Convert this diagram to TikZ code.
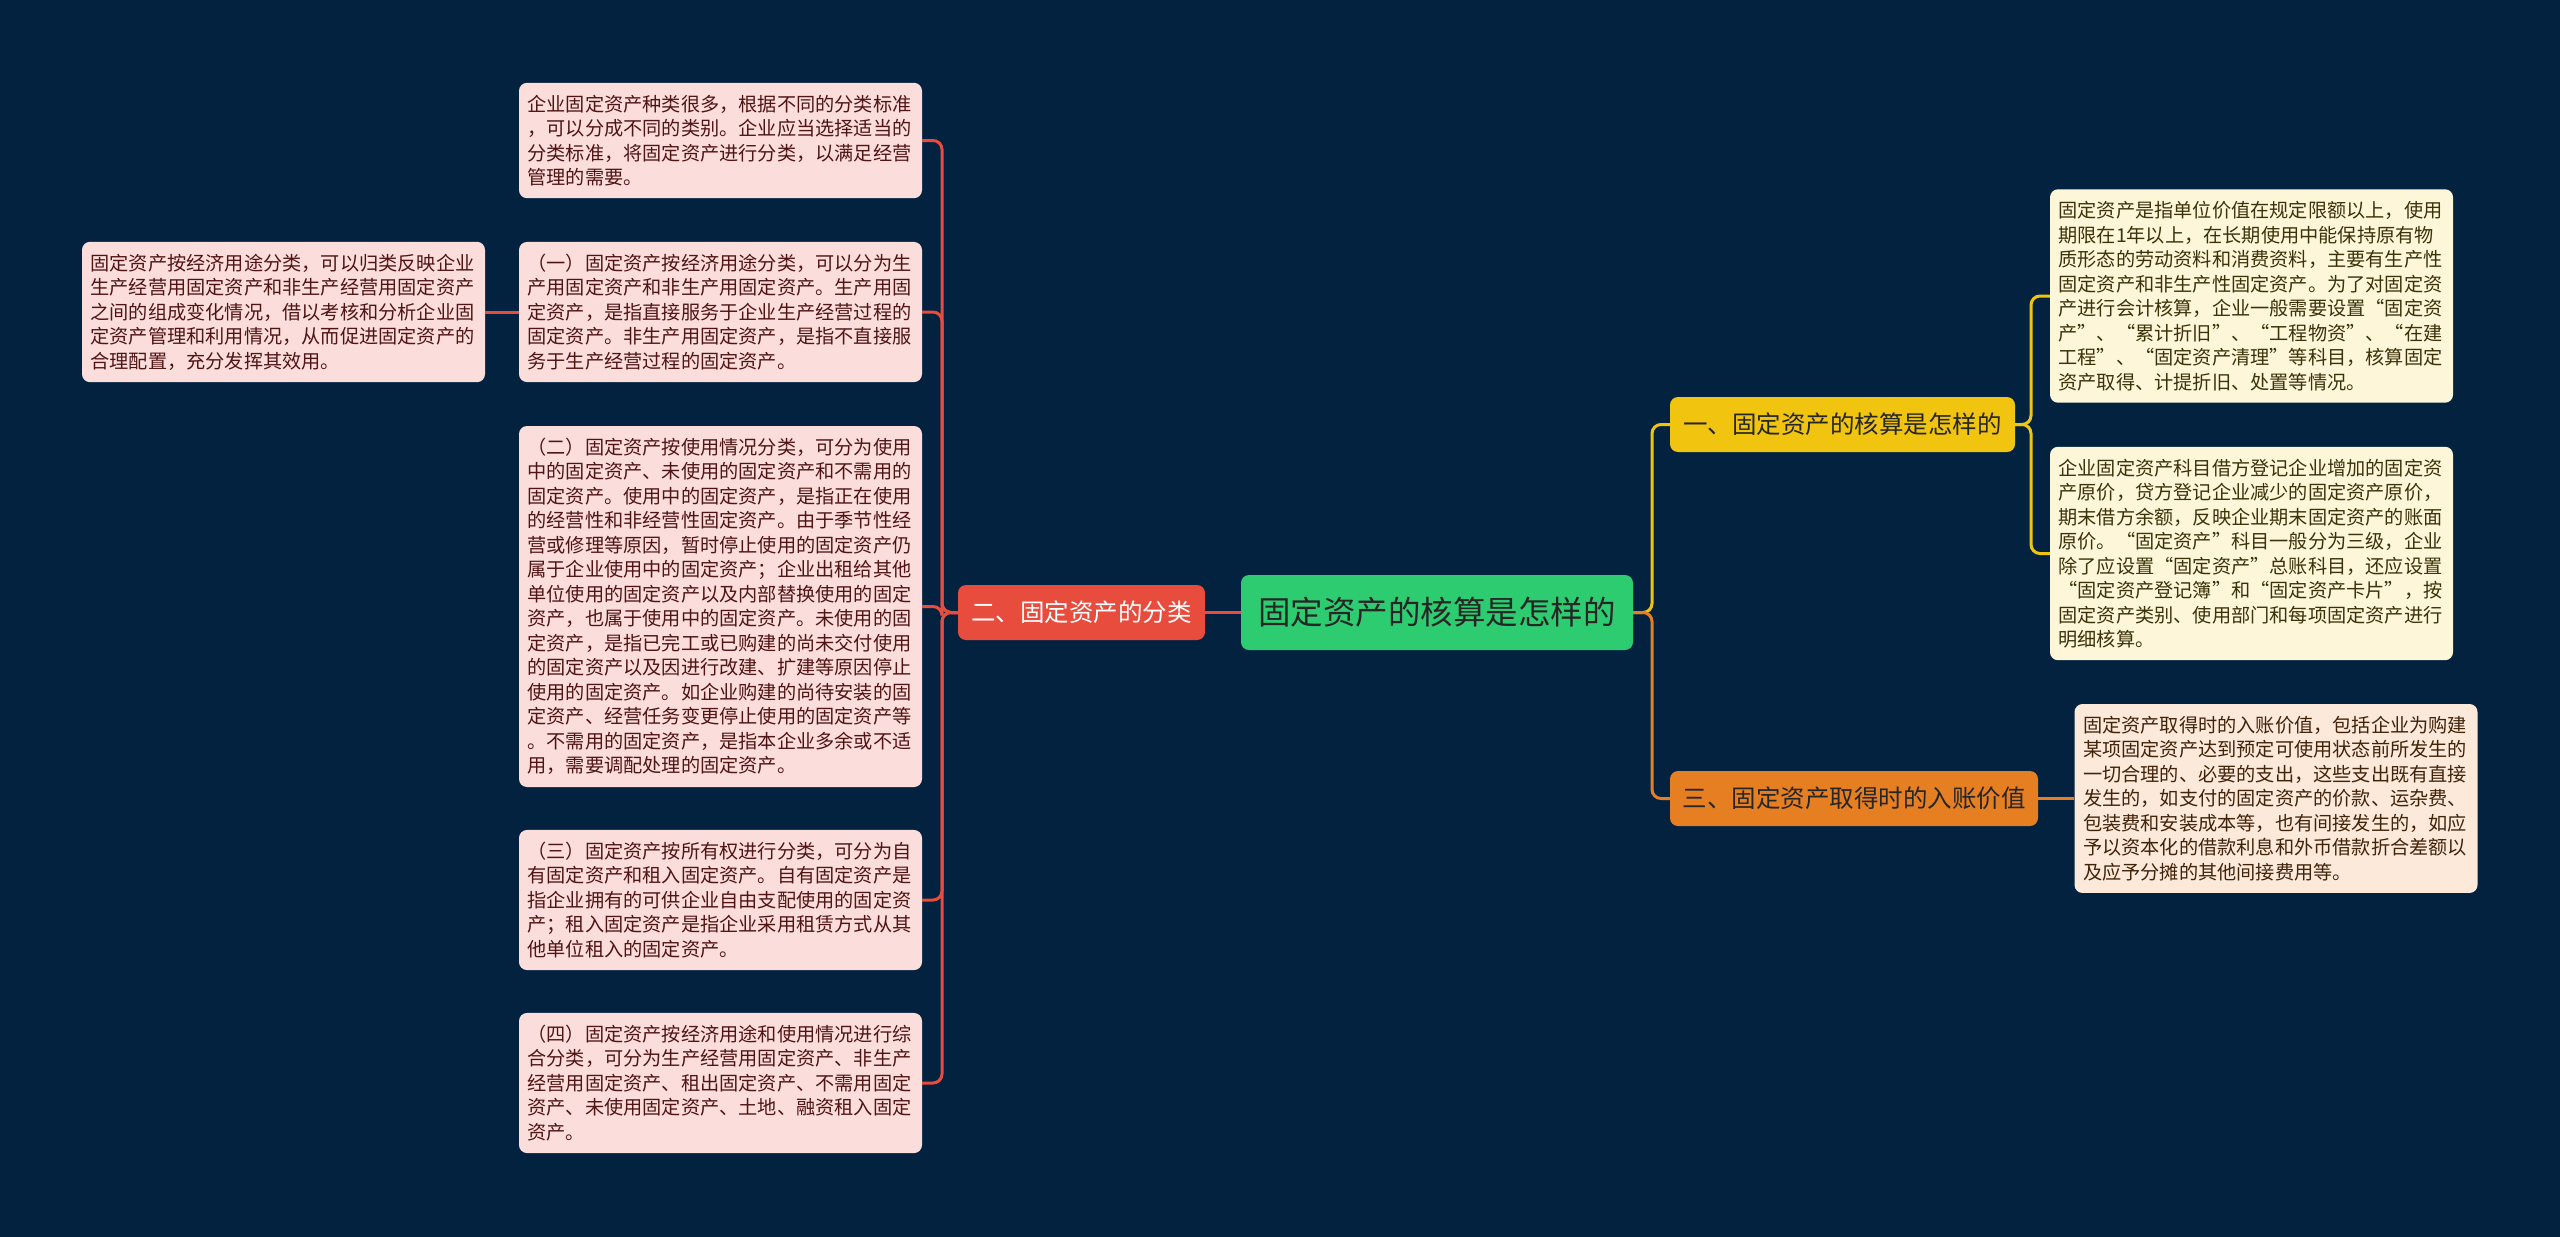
\documentclass[tikz,border=0pt]{standalone}
\usepackage{fontspec}
\newfontfamily\cjk{Noto Sans CJK SC}
\definecolor{bgcol}{RGB}{2,34,64}
\definecolor{pinkfill}{RGB}{251,222,219}
\definecolor{pinktext}{RGB}{80,20,20}
\definecolor{yelfill}{RGB}{253,246,217}
\definecolor{yeltext}{RGB}{60,50,10}
\definecolor{orafill}{RGB}{252,233,218}
\definecolor{oratext}{RGB}{65,35,10}
\definecolor{redc}{RGB}{231,76,60}
\definecolor{yelc}{RGB}{241,196,15}
\definecolor{orac}{RGB}{230,126,34}
\definecolor{greenc}{RGB}{46,204,113}
\tikzset{
  leaf/.style={rounded corners=8pt, text width=386pt, inner xsep=8.5pt, inner ysep=12pt, align=left, anchor=center, font=\cjk\fontsize{19.2}{24.5}\selectfont},
  pinkleaf/.style={leaf, fill=pinkfill, text=pinktext},
  yelleaf/.style={leaf, fill=yelfill, text=yeltext},
  oraleaf/.style={leaf, fill=orafill, text=oratext},
  mainbox/.style={rounded corners=8pt, inner sep=0pt, minimum height=55pt, anchor=center, font=\cjk\fontsize{24.5}{28}\selectfont},
  conn/.style={line width=3pt, rounded corners=9pt},
}
\begin{document}
\begin{tikzpicture}[x=1pt,y=-1pt]
\useasboundingbox (0,0) rectangle (2560,1237);
\fill[bgcol] (0,0) rectangle (2560,1237);

% main nodes
\node[mainbox, fill=greenc, text=black!85, minimum width=392pt, minimum height=75pt, font=\cjk\fontsize{32.5}{36}\selectfont] (center) at (1437,612.5) {固定资产的核算是怎样的};
\node[mainbox, fill=redc, text=white, minimum width=247pt] (red) at (1081.5,612.5) {二、固定资产的分类};
\node[mainbox, fill=yelc, text=black!85, minimum width=345pt] (yel) at (1842.5,424.5) {一、固定资产的核算是怎样的};
\node[mainbox, fill=orac, text=black!85, minimum width=368pt] (ora) at (1854,798.5) {三、固定资产取得时的入账价值};

% left leaves
\node[pinkleaf] (L0) at (720.5,140.5) {企业固定资产种类很多，根据不同的分类标准\\
，可以分成不同的类别。企业应当选择适当的\\
分类标准，将固定资产进行分类，以满足经营\\
管理的需要。};
\node[pinkleaf] (L1) at (720.5,312) {（一）固定资产按经济用途分类，可以分为生\\
产用固定资产和非生产用固定资产。生产用固\\
定资产，是指直接服务于企业生产经营过程的\\
固定资产。非生产用固定资产，是指不直接服\\
务于生产经营过程的固定资产。};
\node[pinkleaf] (L2) at (720.5,606.5) {（二）固定资产按使用情况分类，可分为使用\\
中的固定资产、未使用的固定资产和不需用的\\
固定资产。使用中的固定资产，是指正在使用\\
的经营性和非经营性固定资产。由于季节性经\\
营或修理等原因，暂时停止使用的固定资产仍\\
属于企业使用中的固定资产；企业出租给其他\\
单位使用的固定资产以及内部替换使用的固定\\
资产，也属于使用中的固定资产。未使用的固\\
定资产，是指已完工或已购建的尚未交付使用\\
的固定资产以及因进行改建、扩建等原因停止\\
使用的固定资产。如企业购建的尚待安装的固\\
定资产、经营任务变更停止使用的固定资产等\\
。不需用的固定资产，是指本企业多余或不适\\
用，需要调配处理的固定资产。};
\node[pinkleaf] (L3) at (720.5,900) {（三）固定资产按所有权进行分类，可分为自\\
有固定资产和租入固定资产。自有固定资产是\\
指企业拥有的可供企业自由支配使用的固定资\\
产；租入固定资产是指企业采用租赁方式从其\\
他单位租入的固定资产。};
\node[pinkleaf] (L4) at (720.5,1083) {（四）固定资产按经济用途和使用情况进行综\\
合分类，可分为生产经营用固定资产、非生产\\
经营用固定资产、租出固定资产、不需用固定\\
资产、未使用固定资产、土地、融资租入固定\\
资产。};
\node[pinkleaf] (LL) at (283.5,312) {固定资产按经济用途分类，可以归类反映企业\\
生产经营用固定资产和非生产经营用固定资产\\
之间的组成变化情况，借以考核和分析企业固\\
定资产管理和利用情况，从而促进固定资产的\\
合理配置，充分发挥其效用。};

% right leaves
\node[yelleaf] (R1) at (2251.5,296) {固定资产是指单位价值在规定限额以上，使用\\
期限在1年以上，在长期使用中能保持原有物\\
质形态的劳动资料和消费资料，主要有生产性\\
固定资产和非生产性固定资产。为了对固定资\\
产进行会计核算，企业一般需要设置“固定资\\
产”、“累计折旧”、“工程物资”、“在建\\
工程”、“固定资产清理”等科目，核算固定\\
资产取得、计提折旧、处置等情况。};
\node[yelleaf] (R2) at (2251.5,553.5) {企业固定资产科目借方登记企业增加的固定资\\
产原价，贷方登记企业减少的固定资产原价，\\
期末借方余额，反映企业期末固定资产的账面\\
原价。“固定资产”科目一般分为三级，企业\\
除了应设置“固定资产”总账科目，还应设置\\
“固定资产登记簿”和“固定资产卡片”，按\\
固定资产类别、使用部门和每项固定资产进行\\
明细核算。};
\node[oraleaf] (R3) at (2276,798.5) {固定资产取得时的入账价值，包括企业为购建\\
某项固定资产达到预定可使用状态前所发生的\\
一切合理的、必要的支出，这些支出既有直接\\
发生的，如支付的固定资产的价款、运杂费、\\
包装费和安装成本等，也有间接发生的，如应\\
予以资本化的借款利息和外币借款折合差额以\\
及应予分摊的其他间接费用等。};

% bus coordinates
\coordinate (lbus) at (942,612.5);
\coordinate (rbus) at (1652,612.5);
\coordinate (ybus) at (2031,424.5);

% connectors
\begin{scope}[on background layer/.try]
\draw[conn, redc] (center.west) -- (red.east);
\foreach \n in {L0,L1,L2,L3,L4} {
  \draw[conn, redc] (red.west) -- (lbus) |- (\n.east);
}
\draw[conn, redc] (L1.west) -- (LL.east);
\draw[conn, yelc] (center.east) -- (rbus) |- (yel.west);
\draw[conn, orac] (center.east) -- (rbus) |- (ora.west);
\draw[conn, yelc] (yel.east) -- (ybus) |- (R1.west);
\draw[conn, yelc] (yel.east) -- (ybus) |- (R2.west);
\draw[conn, orac] (ora.east) -- (R3.west);
\end{scope}
\end{tikzpicture}
\end{document}
